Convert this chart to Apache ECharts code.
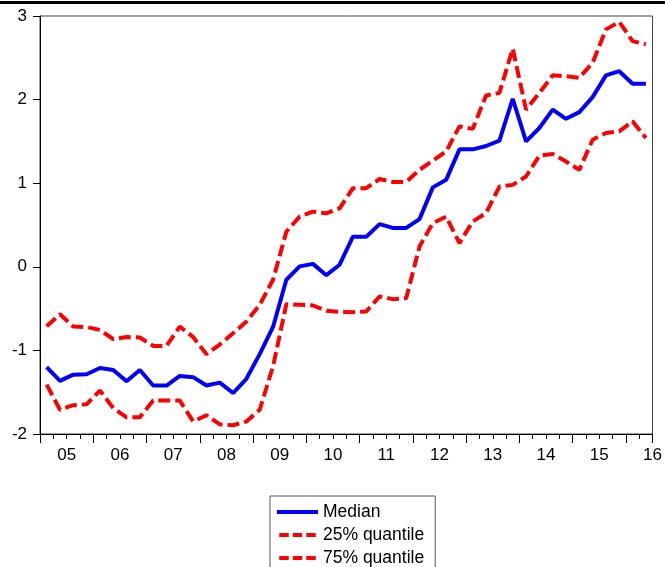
<!DOCTYPE html>
<html>
<head>
<meta charset="utf-8">
<script src="https://cdn.jsdelivr.net/npm/echarts@6/dist/echarts.min.js"></script>
<style>
html,body{margin:0;padding:0;background:#fff;}
#chart{width:665px;height:567px;}
</style>
</head>
<body>
<div id="chart"></div>
<script>
// Quarterly categories 2005Q1 .. 2016Q2
var years = ['05','06','07','08','09','10','11','12','13','14','15','16'];
var quarters = [];
for (var y = 0; y < years.length; y++) {
  for (var q = 1; q <= 4; q++) {
    if (y === years.length - 1 && q > 2) break;
    quarters.push(years[y] + 'Q' + q);
  }
}

var median = [-1.20,-1.365,-1.29,-1.285,-1.21,-1.235,-1.37,-1.235,-1.42,-1.42,
  -1.305,-1.32,-1.42,-1.385,-1.51,-1.34,-1.045,-0.72,-0.155,0.005,
  0.035,-0.10,0.025,0.36,0.36,0.51,0.465,0.465,0.57,0.95,
  1.04,1.405,1.405,1.445,1.51,2.01,1.50,1.66,1.88,1.77,
  1.85,2.03,2.29,2.34,2.19,2.19];

var q25 = [-1.41,-1.71,-1.655,-1.645,-1.48,-1.69,-1.80,-1.80,-1.60,-1.60,
  -1.60,-1.85,-1.775,-1.885,-1.895,-1.85,-1.71,-1.19,-0.447,-0.455,
  -0.463,-0.527,-0.54,-0.543,-0.535,-0.355,-0.387,-0.375,0.243,0.523,
  0.60,0.283,0.543,0.643,0.96,0.98,1.08,1.33,1.35,1.26,
  1.16,1.52,1.60,1.62,1.74,1.54];

var q75 = [-0.71,-0.567,-0.715,-0.72,-0.755,-0.866,-0.84,-0.846,-0.946,-0.946,
  -0.715,-0.84,-1.045,-0.93,-0.795,-0.655,-0.455,-0.155,0.42,0.60,
  0.66,0.64,0.70,0.94,0.94,1.05,1.015,1.015,1.16,1.27,
  1.38,1.68,1.65,2.05,2.08,2.61,1.88,2.08,2.29,2.28,
  2.26,2.44,2.84,2.93,2.70,2.66];

var yTicks = [-2, -1, 0, 1, 2, 3];

var FONT = 'Liberation Sans, Arial, sans-serif';
var nQ = quarters.length;

var SOLID_ICON = 'path://M0,0H41V4H0Z';
var DASH_ICON = 'path://M0,0H9.5V4H0Z M13.5,0H23V4H13.5Z M27,0H36.5V4H27Z';

var chart = echarts.init(document.getElementById('chart'), null, {renderer: 'canvas'});

var option = {
  backgroundColor: '#fff',
  animation: false,
  graphic: [{
    type: 'rect',
    shape: {x: 0, y: 1, width: 665, height: 3},
    style: {fill: '#000'}
  }],
  grid: {
    left: 40, right: 1, top: 16, bottom: 133,
    show: true, borderColor: '#444', borderWidth: 1, backgroundColor: 'transparent'
  },
  legend: {
    orient: 'vertical',
    left: 270, top: 496, height: 150,
    padding: [7, 11, 20, 7],
    itemWidth: 41, itemHeight: 4, itemGap: 5,
    symbolKeepAspect: true,
    borderColor: '#555', borderWidth: 1,
    textStyle: {fontFamily: FONT, fontSize: 17.5, color: '#000'},
    data: [
      {name: 'Median', icon: SOLID_ICON},
      {name: '25% quantile', icon: DASH_ICON},
      {name: '75% quantile', icon: DASH_ICON}
    ]
  },
  xAxis: [
    {
      type: 'category', data: quarters, boundaryGap: true, show: false, position: 'bottom'
    },
    {
      type: 'value', min: 0, max: nQ, interval: 1, position: 'bottom',
      axisLine: {show: true, lineStyle: {color: '#000', width: 1}},
      axisTick: {show: true, length: 5, lineStyle: {color: '#000'}},
      axisLabel: {show: false}, splitLine: {show: false}
    },
    {
      type: 'value', min: 0, max: nQ, interval: 4, position: 'bottom',
      axisLine: {show: false},
      axisTick: {show: true, length: 9, lineStyle: {color: '#000'}},
      axisLabel: {show: false}, splitLine: {show: false}
    },
    {
      type: 'value', min: 0, max: nQ, interval: 2, position: 'bottom',
      axisLine: {show: false}, axisTick: {show: false}, splitLine: {show: false},
      axisLabel: {
        show: true, margin: 13, color: '#000', fontFamily: FONT, fontSize: 17,
        showMinLabel: true, showMaxLabel: true, hideOverlap: false,
        formatter: function (v) {
          if (v % 4 === 2) return years[(v - 2) / 4] || '';
          return '';
        }
      }
    }
  ],
  yAxis: {
    type: 'value', min: yTicks[0], max: yTicks[yTicks.length - 1], interval: 1,
    axisLine: {show: true, lineStyle: {color: '#000', width: 1}},
    axisTick: {show: true, length: 7, inside: false, lineStyle: {color: '#000'}},
    axisLabel: {margin: 13, color: '#000', fontFamily: FONT, fontSize: 17},
    splitLine: {show: false}
  },
  series: [
    {
      name: 'Median', type: 'line', xAxisIndex: 0, data: median,
      symbol: 'none', lineStyle: {color: '#0000ff', width: 4}, itemStyle: {color: '#0000ff'}, z: 3
    },
    {
      name: '25% quantile', type: 'line', xAxisIndex: 0, data: q25,
      symbol: 'none', lineStyle: {color: '#ff0000', width: 4, type: [12, 5]}, itemStyle: {color: '#ff0000'}, z: 2
    },
    {
      name: '75% quantile', type: 'line', xAxisIndex: 0, data: q75,
      symbol: 'none', lineStyle: {color: '#ff0000', width: 4, type: [12, 5]}, itemStyle: {color: '#ff0000'}, z: 2
    }
  ]
};
chart.setOption(option);
</script>
</body>
</html>
